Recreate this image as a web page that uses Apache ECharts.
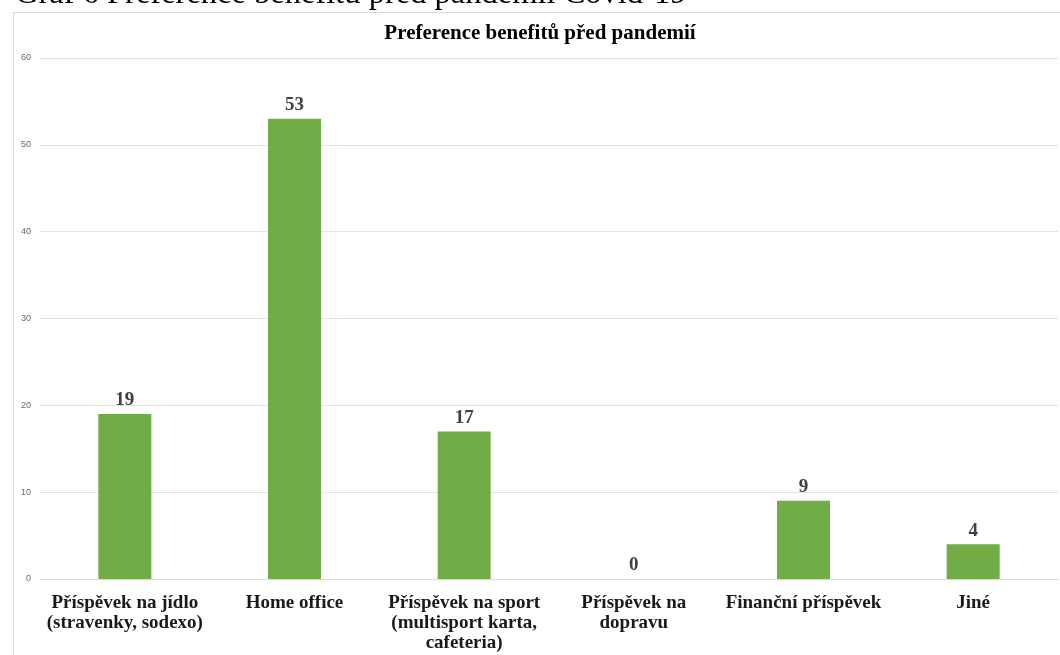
<!DOCTYPE html>
<html><head><meta charset="utf-8">
<script src="https://cdn.jsdelivr.net/npm/echarts@6/dist/echarts.min.js"></script>
<style>html,body{margin:0;padding:0;background:#fff;}#c{width:1060px;height:655px;}</style>
</head><body><div id="c"></div>
<script>
const categories = ['Příspěvek na jídlo\n(stravenky, sodexo)', 'Home office', 'Příspěvek na sport\n(multisport karta,\ncafeteria)', 'Příspěvek na\ndopravu', 'Finanční příspěvek', 'Jiné'];
const values = [19, 53, 17, 0, 9, 4];
const yTicks = [0, 10, 20, 30, 40, 50, 60];
const chartTitle = 'Preference benefitů před pandemií';
const caption = 'Graf 6 Preference benefitů před pandemií Covid-19';

const chart = echarts.init(document.getElementById('c'));
chart.setOption({
  animation: false,
  backgroundColor: '#fff',
  graphic: [
    {type: 'rect', x: 13, y: 12, shape: {x: 0.5, y: 0.5, width: 1100, height: 700}, style: {fill: 'none', stroke: '#d9d9d9', lineWidth: 1}, z: -1, silent: true},
    {type: 'text', x: 15, y: 11, style: {text: caption, fontFamily: 'Liberation Serif', fontSize: 32.5, fill: '#000', verticalAlign: 'bottom'}},
    {type: 'text', x: 540, y: 34, style: {text: chartTitle, fontFamily: 'Liberation Serif', fontWeight: 'bold', fontSize: 21, fill: '#000', align: 'center', verticalAlign: 'middle'}}
  ],
  grid: {left: 40, right: 2, top: 58, bottom: 76, containLabel: false},
  xAxis: {
    type: 'category', data: categories,
    axisLine: {lineStyle: {color: '#d9d9d9'}},
    axisTick: {show: false},
    axisLabel: {interval: 0, margin: 14, fontFamily: 'Liberation Serif', fontWeight: 'bold', fontSize: 19, color: '#1a1a1a', lineHeight: 20}
  },
  yAxis: {
    type: 'value', min: yTicks[0], max: yTicks[yTicks.length - 1], interval: 10,
    axisLine: {show: false}, axisTick: {show: false},
    splitLine: {lineStyle: {color: '#e3e3e3'}},
    axisLabel: {fontSize: 9, color: '#6b6b6b', margin: 9, fontFamily: 'Liberation Sans'}
  },
  series: [{
    type: 'bar', data: values, barWidth: 53,
    itemStyle: {color: '#70ad47'},
    label: {show: true, position: 'top', distance: 4, fontFamily: 'Liberation Serif', fontWeight: 'bold', fontSize: 19, color: '#404040'}
  }]
});
</script></body></html>
